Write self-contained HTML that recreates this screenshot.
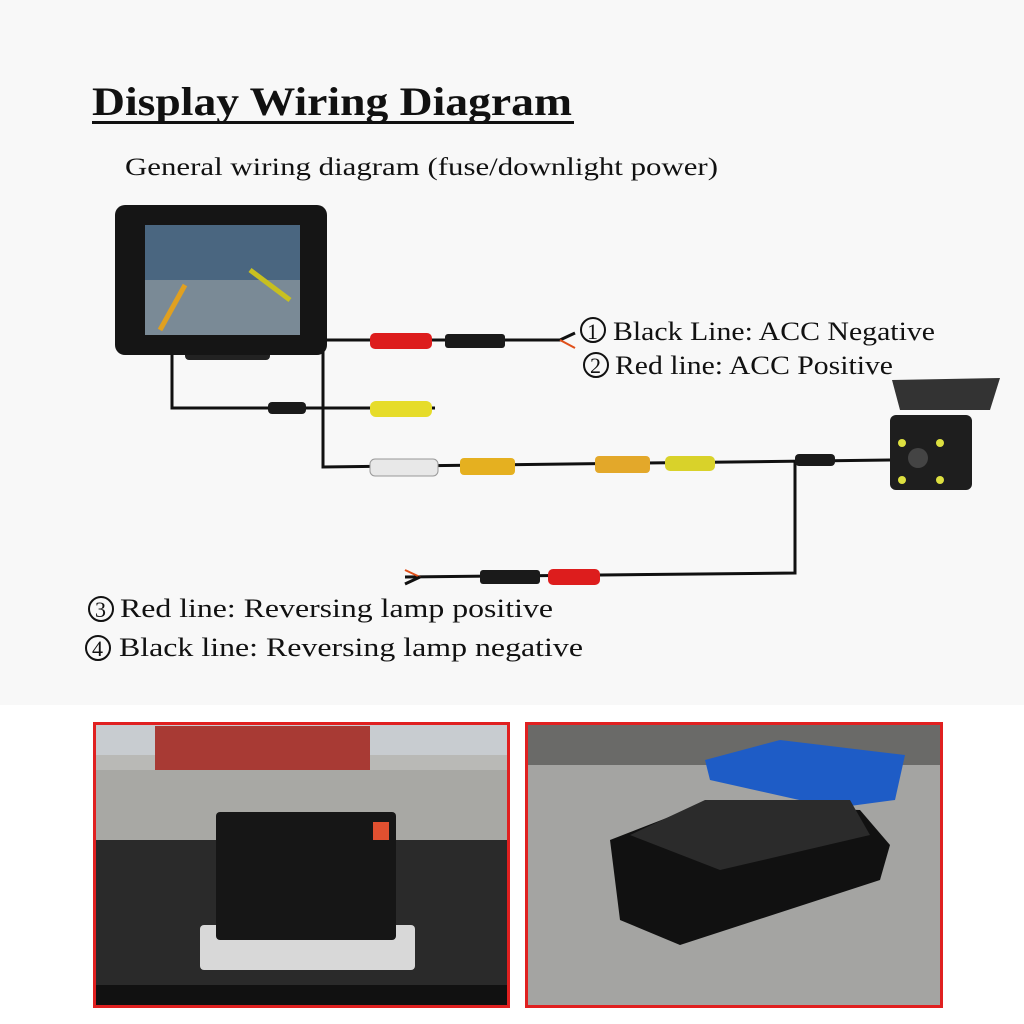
<!DOCTYPE html>
<html><head><meta charset="utf-8"><style>
html,body{margin:0;padding:0;background:#fff}
svg{display:block}
</style></head><body>
<svg width="1024" height="1024" viewBox="0 0 1024 1024" xmlns="http://www.w3.org/2000/svg">
<rect width="1024" height="1024" fill="#ffffff"/>
<rect width="1024" height="705" fill="#f8f8f8"/>
<text x="92" y="115" font-family="Liberation Serif, serif" font-weight="bold" font-size="40" fill="#111" textLength="480" lengthAdjust="spacingAndGlyphs">Display Wiring Diagram</text>
<rect x="92" y="121" width="482" height="3" fill="#111"/>
<text x="125" y="175" font-family="Liberation Serif, serif" font-size="25" fill="#111" textLength="593" lengthAdjust="spacingAndGlyphs">General wiring diagram (fuse/downlight power)</text>

<g stroke="#111" stroke-width="3" fill="none">
<polyline points="172,350 172,408 435,408"/>
<polyline points="575,333 560,340 323,340 323,467 890,460"/>
<polyline points="795,462 795,573 405,577"/>
<line x1="560" y1="340" x2="575" y2="348" stroke="#e0501a" stroke-width="2"/>
<line x1="420" y1="577" x2="405" y2="570" stroke="#e0501a" stroke-width="2"/>
<line x1="420" y1="577" x2="405" y2="584"/>
</g>
<rect x="370" y="333" width="62" height="16" rx="5" fill="#dd1d1d"/>
<rect x="445" y="334" width="60" height="14" rx="3" fill="#1a1a1a"/>
<rect x="370" y="401" width="62" height="16" rx="6" fill="#e6dc2a"/>
<rect x="268" y="402" width="38" height="12" rx="4" fill="#1a1a1a"/>
<rect x="370" y="459" width="68" height="17" rx="5" fill="#e8e8e8" stroke="#999"/>
<rect x="460" y="458" width="55" height="17" rx="4" fill="#e5b020"/>
<rect x="595" y="456" width="55" height="17" rx="4" fill="#e3a82a"/>
<rect x="665" y="456" width="50" height="15" rx="5" fill="#d9d22a"/>
<rect x="795" y="454" width="40" height="12" rx="4" fill="#1a1a1a"/>
<rect x="548" y="569" width="52" height="16" rx="5" fill="#dd1d1d"/>
<rect x="480" y="570" width="60" height="14" rx="3" fill="#1a1a1a"/>

<rect x="185" y="335" width="85" height="25" rx="4" fill="#222"/>
<rect x="115" y="205" width="212" height="150" rx="10" fill="#151515"/>
<rect x="145" y="225" width="155" height="110" fill="#4a6680"/>
<rect x="145" y="280" width="155" height="55" fill="#7a8a96"/>
<path d="M160 330 L185 285" stroke="#e0a020" stroke-width="5"/>
<path d="M290 300 L250 270" stroke="#c8c020" stroke-width="5"/>

<path d="M892 380 L1000 378 L990 410 L900 410 Z" fill="#333"/>
<rect x="890" y="415" width="82" height="75" rx="6" fill="#1e1e1e"/>
<circle cx="918" cy="458" r="10" fill="#444"/>
<circle cx="902" cy="443" r="4" fill="#dde040"/><circle cx="940" cy="443" r="4" fill="#dde040"/>
<circle cx="902" cy="480" r="4" fill="#dde040"/><circle cx="940" cy="480" r="4" fill="#dde040"/>

<g font-family="Liberation Serif, DejaVu Serif, serif" font-size="26" fill="#111">
<circle cx="593" cy="330" r="12" fill="none" stroke="#111" stroke-width="2"/>
<text x="587" y="339" font-size="22">1</text>
<text x="613" y="340" textLength="322" lengthAdjust="spacingAndGlyphs">Black Line: ACC Negative</text>
<circle cx="596" cy="365" r="12" fill="none" stroke="#111" stroke-width="2"/>
<text x="590" y="373" font-size="22">2</text>
<text x="615" y="374" textLength="278" lengthAdjust="spacingAndGlyphs">Red line: ACC Positive</text>
<circle cx="101" cy="609" r="12" fill="none" stroke="#111" stroke-width="2"/>
<text x="95" y="617" font-size="22">3</text>
<text x="120" y="617" textLength="433" lengthAdjust="spacingAndGlyphs">Red line: Reversing lamp positive</text>
<circle cx="98" cy="648" r="12" fill="none" stroke="#111" stroke-width="2"/>
<text x="92" y="656" font-size="22">4</text>
<text x="119" y="656" textLength="464" lengthAdjust="spacingAndGlyphs">Black line: Reversing lamp negative</text>
</g>

<rect x="93" y="722" width="417" height="286" fill="#e02020"/>
<rect x="96" y="725" width="411" height="280" fill="#b9b9b6"/>
<rect x="96" y="725" width="411" height="30" fill="#c8ccd0"/>
<rect x="155" y="726" width="215" height="44" fill="#a83a34"/>
<rect x="96" y="770" width="411" height="70" fill="#a8a8a4"/>
<rect x="96" y="840" width="411" height="165" fill="#2a2a2a"/>
<rect x="96" y="985" width="411" height="20" fill="#111"/>
<rect x="200" y="925" width="215" height="45" rx="4" fill="#d8d8d8"/>
<rect x="216" y="812" width="180" height="128" rx="4" fill="#161616"/>
<rect x="373" y="822" width="16" height="18" fill="#e05030"/>

<rect x="525" y="722" width="418" height="286" fill="#e02020"/>
<rect x="528" y="725" width="412" height="280" fill="#a4a4a2"/>
<rect x="528" y="725" width="412" height="40" fill="#6a6a68"/>
<path d="M705 760 L780 740 L905 755 L895 800 L835 808 L710 780 Z" fill="#1e5cc6"/>
<path d="M610 840 L700 805 L860 810 L890 845 L880 880 L680 945 L620 920 Z" fill="#111"/>
<path d="M630 835 L705 800 L850 800 L870 835 L720 870 Z" fill="#2b2b2b"/>
</svg>
</body></html>
